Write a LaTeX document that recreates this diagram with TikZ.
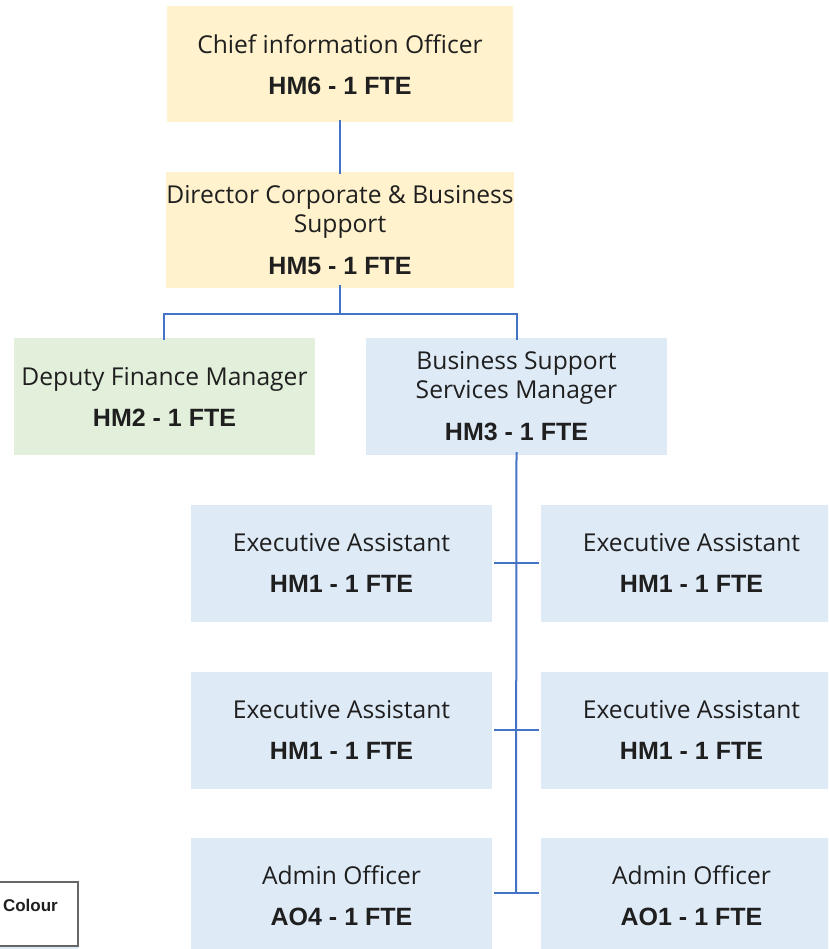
\documentclass[tikz,border=0pt]{standalone}
\usepackage{fontspec}
\setmainfont{Open Sans}
\newfontfamily\boldfam{Liberation Sans}[BoldFont={Liberation Sans Bold}]
\newcommand{\grade}[1]{{\fontsize{25}{29}\selectfont\boldfam\bfseries #1}}
\definecolor{yel}{HTML}{FFF2CC}
\definecolor{grn}{HTML}{E2EFDA}
\definecolor{blu}{HTML}{DEEAF6}
\definecolor{lnk}{HTML}{4472C4}
\definecolor{txt}{HTML}{1F1F1F}
\tikzset{
  box/.style={draw=none, inner sep=0pt, align=center, text=txt,
    font=\fontsize{24.6}{29}\selectfont},
  yelbox/.style={box, fill=yel, minimum width=346pt, minimum height=116pt},
  grnbox/.style={box, fill=grn, minimum width=301pt, minimum height=117pt},
  blubox/.style={box, fill=blu, minimum width=301pt, minimum height=117pt},
  link/.style={draw=lnk, line width=2pt},
}
\begin{document}
\begin{tikzpicture}[x=1pt,y=-1pt]
\useasboundingbox (0,0) rectangle (828,949);
\clip (0,0) rectangle (828,949);
\fill[white] (0,0) rectangle (828,949);
% top
\node[yelbox] (cio) at (340,64.5) {Chief information Officer\\[12pt]\grade{HM6 - 1 FTE}};
\node[yelbox] (dir) at (340,230) {Director Corporate \& Business\\Support\\[13pt]\grade{HM5 - 1 FTE}};
\node[grnbox] (dfm) at (164.5,396.5) {Deputy Finance Manager\\[12pt]\grade{HM2 - 1 FTE}};
\node[blubox] (bss) at (516.5,396.5) {Business Support\\Services Manager\\[13pt]\grade{HM3 - 1 FTE}};
% grid
\node[blubox] (ea1) at (341.5,563) {Executive Assistant\\[12pt]\grade{HM1 - 1 FTE}};
\node[blubox] (ea2) at (691.5,563) {Executive Assistant\\[12pt]\grade{HM1 - 1 FTE}};
\node[blubox] (ea3) at (341.5,730) {Executive Assistant\\[12pt]\grade{HM1 - 1 FTE}};
\node[blubox] (ea4) at (691.5,730) {Executive Assistant\\[12pt]\grade{HM1 - 1 FTE}};
\node[blubox] (ao4) at (341.5,896) {Admin Officer\\[12pt]\grade{AO4 - 1 FTE}};
\node[blubox] (ao1) at (691.5,896) {Admin Officer\\[12pt]\grade{AO1 - 1 FTE}};
% connectors
\coordinate (bus) at (340,314);
\draw[link] ([yshift=3pt]cio.south) -- ([yshift=-2pt]dir.north);
\draw[link] ([yshift=3pt]dir.south) -- (bus);
\draw[link] (bus) -| ([xshift=-0.5pt,yshift=-2pt]dfm.north);
\draw[link] (bus) -| ([yshift=-2pt]bss.north);
\coordinate (sp1) at (516,563);
\coordinate (sp2) at (516,730);
\coordinate (sp3) at (516,893);
\draw[link] ([yshift=3pt]bss.south) -- (sp3);
\draw[link] ([xshift=2pt]ea1.east |- sp1) -- ([xshift=-2pt]ea2.west |- sp1);
\draw[link] ([xshift=2pt]ea3.east |- sp2) -- ([xshift=-2pt]ea4.west |- sp2);
\draw[link] ([xshift=2pt]ao4.east |- sp3) -- ([xshift=-2pt]ao1.west |- sp3);
% legend fragment
\fill[blu] (-50,946) rectangle (78,960);
\node[draw=gray!80!black, line width=1.5pt, fill=white, minimum width=128pt, minimum height=64pt, inner sep=0pt] (leg) at (14,914) {};
\node[anchor=east, inner sep=0pt, text=txt] (legt) at (58,905) {\fontsize{17}{20}\selectfont\boldfam\bfseries Colour};
\end{tikzpicture}
\end{document}
